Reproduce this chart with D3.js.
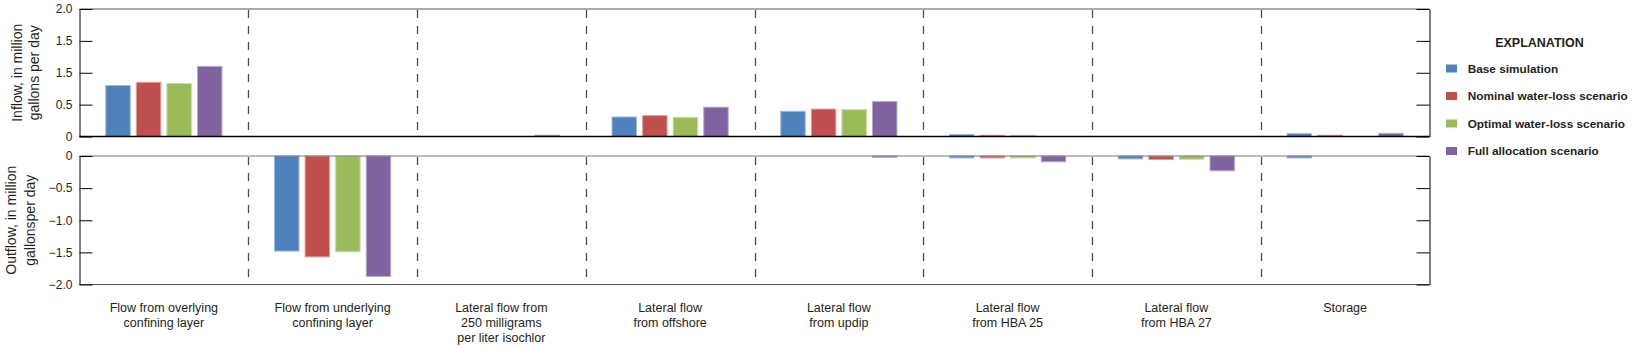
<!DOCTYPE html>
<html><head><meta charset="utf-8">
<script src="https://cdn.jsdelivr.net/npm/d3@7"></script>
<style>
body{margin:0;background:#fff}
svg{display:block}
text{font-family:"Liberation Sans",Arial,sans-serif;fill:#231f20}
</style>
</head><body>
<svg id="chart" width="1633" height="348"></svg>
<script>
// ---------- data ----------
const categories = ["overlying","underlying","isochlor","offshore","updip","HBA25","HBA27","storage"];
const categoryLabels = [
  ["Flow from overlying","confining layer"],
  ["Flow from underlying","confining layer"],
  ["Lateral flow from","250 milligrams","per liter isochlor"],
  ["Lateral flow","from offshore"],
  ["Lateral flow","from updip"],
  ["Lateral flow","from HBA 25"],
  ["Lateral flow","from HBA 27"],
  ["Storage"]
];
const seriesNames = ["Base simulation","Nominal water-loss scenario","Optimal water-loss scenario","Full allocation scenario"];
const seriesColors = ["#4F81BD","#C0504D","#9BBB59","#8064A2"];

const inflowBase     = [0.80, 0, 0,    0.306, 0.395, 0.03, 0, 0.045];
const inflowNominal  = [0.85, 0, 0,    0.328, 0.43,  0.02, 0, 0.02];
const inflowOptimal  = [0.83, 0, 0,    0.30,  0.42,  0.02, 0, 0];
const inflowFull     = [1.10, 0, 0.02, 0.46,  0.55,  0,    0, 0.05];

const outflowBase    = [0, -1.48,  0, 0, 0,     -0.03, -0.045, -0.03];
const outflowNominal = [0, -1.57,  0, 0, 0,     -0.03, -0.055, 0];
const outflowOptimal = [0, -1.49,  0, 0, 0,     -0.03, -0.05,  0];
const outflowFull    = [0, -1.875, 0, 0, -0.02, -0.09, -0.23,  0];

const inflowTicks = [0, 0.5, 1, 1.5, 2];
const inflowTickLabels = ["0","0.5","1.5","1.5","2.0"];
const outflowTicks = [-2, -1.5, -1, -0.5, 0];
const outflowTickLabels = ["\u22122.0","\u22121.5","\u22121.0","\u22120.5","0"];

const inflowTitle = ["Inflow, in million","gallons per day"];
const outflowTitle = ["Outflow, in million","gallonsper day"];
const legendTitle = "EXPLANATION";

// ---------- layout ----------
const inflow = [inflowBase, inflowNominal, inflowOptimal, inflowFull];
const outflow = [outflowBase, outflowNominal, outflowOptimal, outflowFull];

const svg = d3.select("#chart");
const left = 79.5, right = 1429.5;
const topP = {y0: 9, y1: 136.5};
const botP = {y0: 156, y1: 284.5};

const x0 = d3.scaleBand().domain(categories).range([left, right]).padding(0);
const x1 = d3.scaleBand().domain(seriesNames).range([0, x0.bandwidth()])
  .paddingInner(0.2).paddingOuter(0.86);
const yTop = d3.scaleLinear().domain([0, 2]).range([topP.y1, topP.y0]);
const yBot = d3.scaleLinear().domain([-2, 0]).range([botP.y1, botP.y0]);

function lighter(c){ return d3.interpolateRgb(c, "#ffffff")(0.45); }

// dashed separators
[topP, botP].forEach(p => {
  svg.append("g").selectAll("line")
    .data(categories.slice(1))
    .join("line")
    .attr("x1", d => Math.round(x0(d)) + 0.5)
    .attr("x2", d => Math.round(x0(d)) + 0.5)
    .attr("y1", p.y0 + 1).attr("y2", p.y1)
    .attr("stroke", "#4d4d4d").attr("stroke-width", 1.3)
    .attr("stroke-dasharray", "8,8");
});

// bars
function drawBars(data, y, isTop){
  const g = svg.append("g");
  data.forEach((vals, si) => {
    g.selectAll(null)
      .data(vals.map((v, ci) => ({v, c: categories[ci]})).filter(d => d.v !== 0))
      .join("rect")
      .attr("x", d => x0(d.c) + x1(seriesNames[si]))
      .attr("width", x1.bandwidth())
      .attr("y", d => isTop ? y(d.v) : y(0))
      .attr("height", d => Math.abs(y(d.v) - y(0)))
      .attr("fill", seriesColors[si])
      .attr("stroke", lighter(seriesColors[si]))
      .attr("stroke-width", 1);
  });
}
drawBars(inflow, yTop, true);
drawBars(outflow, yBot, false);

// panel frames
svg.append("line").attr("x1", left).attr("x2", right).attr("y1", topP.y0).attr("y2", topP.y0)
  .attr("stroke", "#555").attr("stroke-width", 1);
svg.append("line").attr("x1", left).attr("x2", right).attr("y1", topP.y1).attr("y2", topP.y1)
  .attr("stroke", "#000").attr("stroke-width", 1.3);
svg.append("line").attr("x1", left).attr("x2", right).attr("y1", botP.y0).attr("y2", botP.y0)
  .attr("stroke", "#777").attr("stroke-width", 1);
svg.append("line").attr("x1", left).attr("x2", right).attr("y1", botP.y1).attr("y2", botP.y1)
  .attr("stroke", "#555").attr("stroke-width", 1);

// y axes
function yAxes(y, ticks, labels){
  const la = svg.append("g").attr("transform", `translate(${left},0)`)
    .call(d3.axisLeft(y).tickValues(ticks).tickSizeInner(-13).tickSizeOuter(0).tickPadding(7)
      .tickFormat((d, i) => labels[i]));
  la.select(".domain").attr("stroke", "#000");
  la.selectAll(".tick line").attr("stroke", "#000");
  la.selectAll("text").attr("font-size", 12).attr("fill", "#231f20")
    .style("font-family", '"Liberation Sans",Arial,sans-serif');
  const ra = svg.append("g").attr("transform", `translate(${right},0)`)
    .call(d3.axisRight(y).tickValues(ticks).tickSizeInner(-13).tickSizeOuter(0).tickFormat(""));
  ra.select(".domain").attr("stroke", "#000");
  ra.selectAll(".tick line").attr("stroke", "#000");
}
yAxes(yTop, inflowTicks, inflowTickLabels);
yAxes(yBot, outflowTicks, outflowTickLabels);

// y titles
function yTitle(lines, cy, xs){
  lines.forEach((t, i) => {
    svg.append("text")
      .attr("transform", `translate(${xs[i]},${cy}) rotate(-90)`)
      .attr("text-anchor", "middle")
      .attr("font-size", 14)
      .text(t);
  });
}
yTitle(inflowTitle, (topP.y0 + topP.y1) / 2, [21.5, 39]);
yTitle(outflowTitle, (botP.y0 + botP.y1) / 2, [16, 35]);

// x labels
const xl = svg.append("g");
categories.forEach((c, ci) => {
  categoryLabels[ci].forEach((t, li) => {
    xl.append("text")
      .attr("x", x0(c) + x0.bandwidth() / 2)
      .attr("y", 311.5 + li * 15)
      .attr("text-anchor", "middle")
      .attr("font-size", 12.5)
      .text(t);
  });
});

// legend
const lg = svg.append("g");
lg.append("text").attr("x", 1539.5).attr("y", 47).attr("text-anchor", "middle")
  .attr("font-size", 12.5).attr("font-weight", "bold")
  .text(legendTitle);
seriesNames.forEach((s, i) => {
  const cy = 68.5 + i * 27.5;
  lg.append("rect").attr("x", 1446).attr("y", cy - 4).attr("width", 11).attr("height", 8)
    .attr("fill", seriesColors[i]);
  lg.append("text").attr("x", 1467.7).attr("y", cy + 4.3)
    .attr("font-size", 11.8).attr("font-weight", "bold")
    .text(s);
});
</script>
</body></html>
